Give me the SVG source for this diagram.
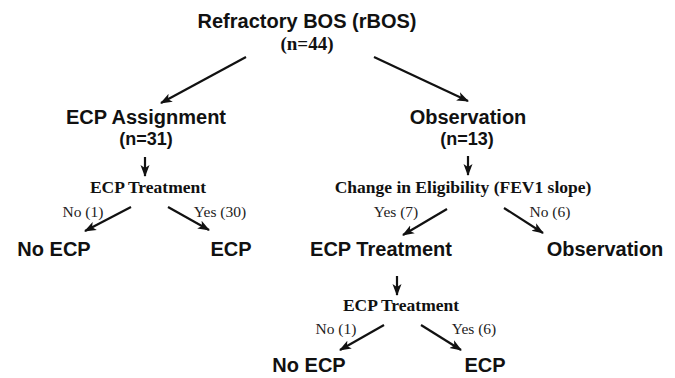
<svg xmlns="http://www.w3.org/2000/svg" width="675" height="378" viewBox="0 0 675 378">
<defs>
<marker id="ah" markerWidth="12" markerHeight="10" refX="11" refY="5" orient="auto" markerUnits="userSpaceOnUse">
<path d="M0,0.5 L12,5 L0,9.5 L3,5 Z" fill="#111"/>
</marker>
</defs>
<style>
.h{font-family:"Liberation Sans",Arial,sans-serif;font-weight:bold;font-size:20px;fill:#111;text-anchor:middle}
.n{font-family:"Liberation Sans",Arial,sans-serif;font-weight:bold;font-size:18px;fill:#111;text-anchor:middle}
.t{font-family:"Liberation Serif","Times New Roman",serif;font-weight:bold;font-size:17.5px;fill:#111;text-anchor:middle}
.tn{font-family:"Liberation Serif","Times New Roman",serif;font-weight:bold;font-size:19px;fill:#111;text-anchor:middle}
.l{font-family:"Liberation Serif","Times New Roman",serif;font-size:15.5px;fill:#222;text-anchor:middle}
.c{stroke:#111;stroke-width:2.2;fill:none;marker-end:url(#ah)}
</style>
<rect width="675" height="378" fill="#fff"/>
<g id="root"><text class="h" x="307" y="28">Refractory BOS (rBOS)</text><text class="tn" x="307" y="50">(n=44)</text></g>
<g id="ecp-assign"><text class="h" x="146" y="124">ECP Assignment</text><text class="n" x="146" y="145">(n=31)</text></g>
<g id="obs"><text class="h" x="468" y="124">Observation</text><text class="n" x="467" y="145">(n=13)</text></g>
<g id="ecp-treat-1"><text class="t" x="148" y="193">ECP Treatment</text></g>
<g id="elig"><text class="t" x="463" y="193">Change in Eligibility (FEV1 slope)</text></g>
<g id="noecp-1"><text class="h" x="54" y="256">No ECP</text></g>
<g id="ecp-1"><text class="h" x="231" y="256">ECP</text></g>
<g id="ecp-treat-2"><text class="h" x="381" y="256">ECP Treatment</text></g>
<g id="obs-2"><text class="h" x="605" y="256">Observation</text></g>
<g id="ecp-treat-3"><text class="t" x="401" y="311">ECP Treatment</text></g>
<g id="noecp-2"><text class="h" x="309" y="372">No ECP</text></g>
<g id="ecp-2"><text class="h" x="485" y="372">ECP</text></g>
<g id="connectors">
<line class="c" x1="246" y1="57" x2="161" y2="103"/>
<line class="c" x1="374" y1="57" x2="468" y2="101"/>
<line class="c" x1="145" y1="157" x2="145" y2="176"/>
<line class="c" x1="468" y1="156" x2="468" y2="175"/>
<line class="c" x1="131" y1="207" x2="85" y2="231"/>
<line class="c" x1="168" y1="207" x2="209" y2="230"/>
<line class="c" x1="447" y1="209" x2="403" y2="235"/>
<line class="c" x1="504" y1="208" x2="543" y2="233"/>
<line class="c" x1="397" y1="276" x2="397" y2="295"/>
<line class="c" x1="384" y1="325" x2="340" y2="350"/>
<line class="c" x1="421" y1="325" x2="461" y2="350"/>
<text class="l" x="83" y="217">No (1)</text>
<text class="l" x="220" y="217">Yes (30)</text>
<text class="l" x="396" y="217">Yes (7)</text>
<text class="l" x="550" y="217">No (6)</text>
<text class="l" x="336" y="334">No (1)</text>
<text class="l" x="474" y="334">Yes (6)</text>
</g>
</svg>
